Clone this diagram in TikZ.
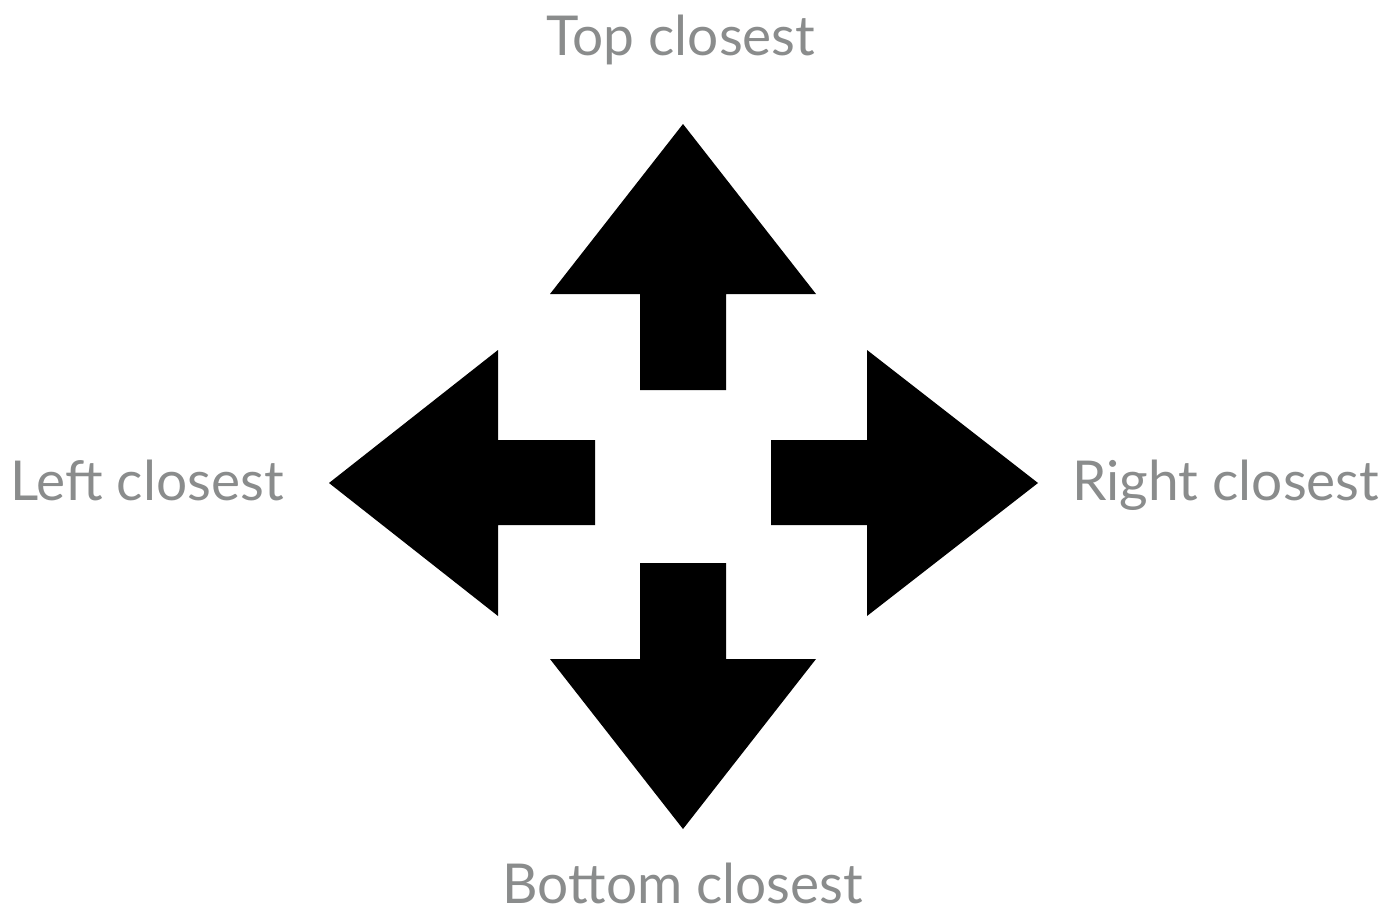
\documentclass[tikz,border=0pt]{standalone}
\usepackage{fontspec}
\setmainfont{Lato}
\definecolor{labelgray}{HTML}{8A8C8C}
\begin{document}
\begin{tikzpicture}[x=1pt,y=-1pt,
  lbl/.style={anchor=base,text=labelgray,inner sep=0pt,font=\fontsize{55}{58}\selectfont},
  arrowshape/.style={fill=black,draw=none}]
\useasboundingbox (0,0) rectangle (1393,913);
% up arrow
\fill[arrowshape] (683,124) -- (816,294) -- (726,294) -- (726,390) -- (640,390) -- (640,294) -- (550,294) -- cycle;
% down arrow
\fill[arrowshape] (683,829) -- (816,659) -- (726,659) -- (726,563) -- (640,563) -- (640,659) -- (550,659) -- cycle;
% left arrow
\fill[arrowshape] (329,483) -- (498,350) -- (498,440) -- (595,440) -- (595,525) -- (498,525) -- (498,616) -- cycle;
% right arrow
\fill[arrowshape] (1038,483) -- (867,350) -- (867,440) -- (771,440) -- (771,525) -- (867,525) -- (867,616) -- cycle;
\node[lbl] (top) at (681,55) {Top closest};
\node[lbl] (bottom) at (683,903) {Bottom closest};
\node[lbl] (left) at (147,500) {Left closest};
\node[lbl] (right) at (1226,500) {Right closest};
\end{tikzpicture}
\end{document}
